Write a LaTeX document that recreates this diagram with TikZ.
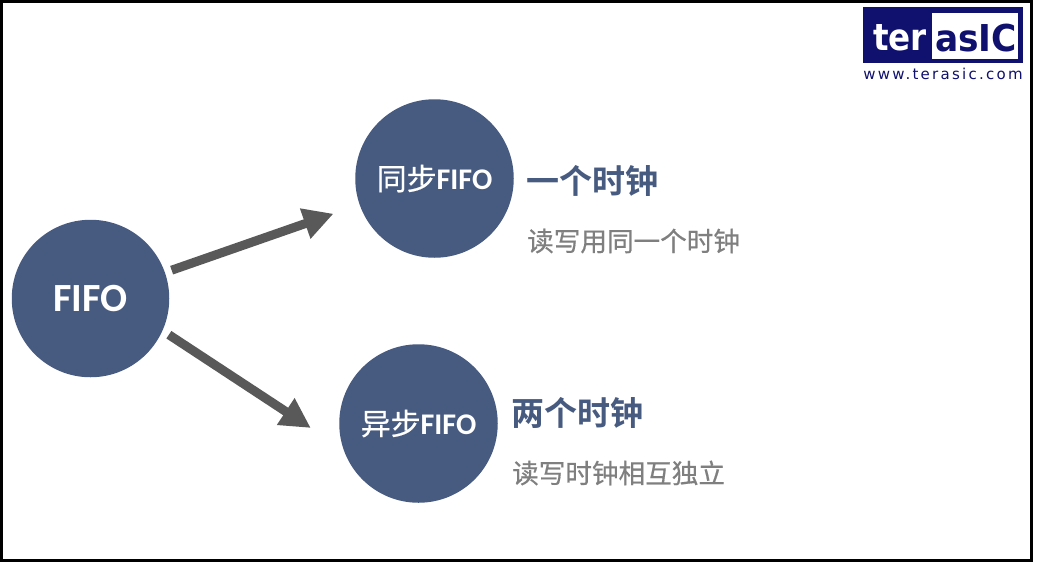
\documentclass[tikz,border=0pt]{standalone}
\usepackage{fontspec}
\setmainfont{Carlito}
\newfontfamily\cjk{Noto Sans CJK SC}
\newfontfamily\cjkm[FakeBold=0.5]{Noto Sans CJK SC}
\newfontfamily\cjkb{Noto Sans CJK SC Bold}
\newfontfamily\lat{Carlito Bold}
\newfontfamily\logob{DejaVu Sans Bold}
\newfontfamily\logow[LetterSpace=15]{DejaVu Sans}
\usetikzlibrary{arrows.meta,calc}
\definecolor{disc}{HTML}{475A7F}
\definecolor{arrowgrey}{HTML}{595959}
\definecolor{subgrey}{HTML}{7F7F7F}
\definecolor{logonavy}{HTML}{10106E}
\tikzset{
  x=1pt,y=-1pt,
  disc/.style={circle,fill=disc,minimum size=158.5pt,inner sep=0pt,text=white},
  flowarrow/.style={draw=arrowgrey,line width=9pt,-{Triangle[length=30pt,width=30pt]}},
  headline/.style={anchor=west,text=disc,inner sep=0pt},
  subline/.style={anchor=west,text=subgrey,inner sep=0pt},
  logotext/.style={inner sep=0pt,anchor=center}
}
\begin{document}
\begin{tikzpicture}
\useasboundingbox (0,0) rectangle (1037,563);
\fill[white] (0,0) rectangle (1037,563);
\node[draw=black,line width=3pt,fill=white,minimum width=1030pt,minimum height=559pt,inner sep=0pt] (frame) at (516,280.5) {};
% logo
\node[fill=logonavy,minimum width=160pt,minimum height=56pt,inner sep=0pt] (logobg) at (943,35) {};
\node[fill=white,minimum width=86pt,minimum height=46pt,inner sep=0pt] (logobox) at (975,36) {};
\node[logotext,text=white] (logoter) at (900,38) {\scalebox{0.88}[1]{\logob\fontsize{37}{37}\selectfont ter}};
\node[logotext,text=logonavy] (logoas) at (976,38) {\scalebox{0.93}[1]{\logob\fontsize{37}{37}\selectfont asIC}};
\node[logotext,text=logonavy] (logourl) at (943,74) {\logow\fontsize{15}{16}\selectfont www.terasic.com};
% discs
\node[disc,minimum size=157.5pt] (fifo) at (90.5,298.5) {\fontsize{40}{42}\selectfont\lat FIFO};
\node[disc] (sync) at (434.5,178.5) {\fontsize{30}{31}\selectfont\cjkm 同步\lat FIFO};
\node[disc] (async) at (418.5,423.5) {\fontsize{30}{31}\selectfont\cjkm 异步\lat FIFO};
% arrows
\draw[flowarrow,shorten <=7pt,shorten >=27.5pt] (fifo) -- (sync);
\draw[flowarrow,shorten <=7.5pt,shorten >=39pt] (fifo.-24.1) -- (async.199);
% labels
\node[headline] (h1) at (526,181) {\fontsize{33}{34}\selectfont\cjkb 一个时钟};
\node[subline] (s1) at (527,241) {\fontsize{26.6}{28}\selectfont\cjkm 读写用同一个时钟};
\node[headline] (h2) at (511,413) {\fontsize{33}{34}\selectfont\cjkb 两个时钟};
\node[subline] (s2) at (512,473) {\fontsize{26.6}{28}\selectfont\cjkm 读写时钟相互独立};
\end{tikzpicture}
\end{document}
